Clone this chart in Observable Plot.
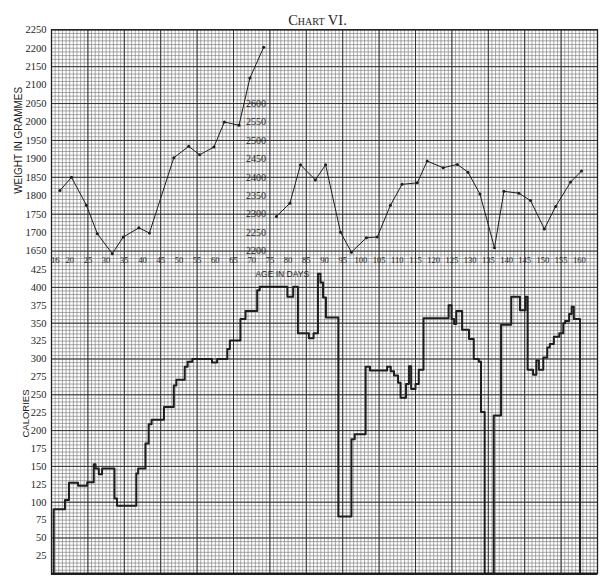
<!DOCTYPE html>
<html><head><meta charset="utf-8">
<script src="https://cdn.jsdelivr.net/npm/d3@7"></script>
<script src="https://cdn.jsdelivr.net/npm/@observablehq/plot@0.6"></script>
<style>
body{margin:0;background:#fff;}
#chart{width:610px;height:581px;}
</style>
</head><body><div id="chart"></div>
<script>
// Weight (grams), first part read on the left scale (1650-2250)
const weightDaysA = [17.3, 20.5, 24.6, 27.6, 31.7, 34.7, 39.0, 41.9, 48.6, 52.7, 55.7, 59.6, 62.5, 66.5, 69.5, 73.3];
const weightsA    = [1814, 1850, 1774, 1697, 1643, 1688, 1713, 1699, 1903, 1934, 1911, 1932, 2000, 1991, 2119, 2203];
// Weight (grams), second part read on the inner scale (2200-2600)
const weightDaysB = [76.8, 80.5, 83.4, 87.5, 90.3, 94.4, 97.4, 101.5, 104.5, 108.1, 111.3, 115.5, 118.2, 122.6, 126.5, 129.4, 132.7, 136.7, 139.3, 143.4, 146.6, 150.4, 153.5, 157.6, 160.6];
const weightsB    = [2294, 2330, 2434, 2393, 2434, 2251, 2197, 2236, 2238, 2324, 2381, 2385, 2444, 2426, 2435, 2414, 2355, 2209, 2362, 2357, 2337, 2260, 2321, 2387, 2417];
// Calories (step changes: value holds from that day on)
const calDays = [15.6, 15.6, 18.7, 19.8, 22.3, 24.8, 26.6, 27.1, 28.0, 28.9, 32.3, 33.0, 38.3, 38.8, 40.8, 41.7, 42.5, 45.9, 48.6, 49.3, 51.6, 52.4, 53.7, 59.1, 60.5, 63.3, 64.0, 66.9, 68.3, 71.5, 72.2, 79.8, 81.4, 82.7, 85.7, 87.0, 88.2, 88.9, 89.6, 90.4, 93.8, 97.4, 98.3, 101.3, 102.5, 107.2, 108.2, 109.1, 110.2, 110.9, 112.4, 113.2, 113.8, 115.0, 115.9, 117.2, 124.1, 124.9, 125.6, 126.2, 127.8, 129.7, 131.0, 132.4, 133.0, 134.0, 136.5, 138.5, 141.3, 143.7, 145.2, 145.8, 147.3, 148.2, 148.9, 150.1, 151.2, 151.9, 153.0, 154.5, 155.6, 156.1, 157.2, 157.9, 158.5, 160.2];
const calValues = [0, 90, 103, 127, 123, 128, 153, 147, 139, 147, 105, 95, 140, 147, 182, 209, 215, 233, 263, 271, 289, 296, 300, 295, 300, 314, 326, 356, 367, 396, 401, 387, 401, 336, 329, 336, 419, 407, 386, 358, 80, 188, 195, 289, 284, 289, 283, 277, 267, 246, 265, 290, 258, 265, 285, 357, 375, 356, 349, 367, 341, 328, 300, 296, 226, 0, 221, 348, 387, 368, 387, 285, 278, 298, 285, 302, 316, 321, 331, 336, 350, 353, 363, 373, 356, 0];

const dayTickLabels = [16, 20, 25, 30, 35, 40, 45, 50, 55, 60, 65, 70, 75, 80, 85, 90, 95, 100, 105, 110, 115, 120, 125, 130, 135, 140, 145, 150, 155, 160];
const weightTickLabels = [1650, 1700, 1750, 1800, 1850, 1900, 1950, 2000, 2050, 2100, 2150, 2200, 2250];
const weightTickLabelsInner = [2200, 2250, 2300, 2350, 2400, 2450, 2500, 2550, 2600];
const calTickLabels = [25, 50, 75, 100, 125, 150, 175, 200, 225, 250, 275, 300, 325, 350, 375, 400, 425];

const title = "Chart VI.";
const xTitle = "AGE IN DAYS";
const yTitleWeight = "WEIGHT IN GRAMMES";
const yTitleCal = "CALORIES";

// one vertical unit scale for the whole sheet: calorie panel below, weight panel above
const calY = c => c * 0.98715;
const wA = w => 444.91 + (w - 1650) * 0.5085;
const wB = w => 444.91 + (w - 2200) * 0.5085;

const weightA = weightDaysA.map((d, i) => ({day: d, y: wA(weightsA[i])}));
const weightB = weightDaysB.map((d, i) => ({day: d, y: wB(weightsB[i])}));
const cal = calDays.map((d, i) => ({day: d, y: calY(calValues[i])}));

// graph-paper lines
const fineX = d3.range(15, 165.01, 1);
const heavyX = d3.range(15, 165.01, 10);
const gapLo = calY(425), gapHi = wA(1650);
const fineY = [
  ...d3.range(0, 425.01, 5).map(calY),
  ...d3.range(1, 5).map(i => gapLo + i * (gapHi - gapLo) / 5),
  ...d3.range(1650, 2250.01, 10).map(wA)
];
const heavyY = [...d3.range(0, 400.01, 50).map(calY), ...d3.range(1650, 2250.01, 100).map(wA)];

const serif = "Liberation Serif, DejaVu Serif, serif";
const sans = "Liberation Sans, DejaVu Sans, sans-serif";
const ink = "#1e1e1e";

const wLabel = new Map(weightTickLabels.map(w => [wA(w), String(w)]));

const chart = Plot.plot({
  width: 610, height: 581,
  marginTop: 29.3, marginBottom: 7.7, marginLeft: 51, marginRight: 13,
  style: {background: "#fff", color: ink},
  x: {domain: [15, 165], axis: null},
  y: {domain: [0, 750], axis: null},
  marks: [
    Plot.ruleX(fineX, {stroke: "#7a7a7a", strokeWidth: 0.65}),
    Plot.ruleY(fineY, {stroke: "#7a7a7a", strokeWidth: 0.65}),
    Plot.ruleX(heavyX, {stroke: "#333", strokeWidth: 1}),
    Plot.ruleY(heavyY, {stroke: "#333", strokeWidth: 1}),
    Plot.frame({stroke: ink, strokeWidth: 1.3}),
    Plot.ruleY([0], {stroke: ink, strokeWidth: 2.4}),
    // labels
    Plot.axisY(weightTickLabels.map(wA), {anchor: "left", tickSize: 0, tickPadding: 5, label: null,
      tickFormat: u => wLabel.get(u), fontSize: 10.5, fontFamily: serif}),
    Plot.axisY(calTickLabels.map(calY), {anchor: "left", tickSize: 0, tickPadding: 5, label: null,
      tickFormat: u => String(Math.round(u / 0.98715)), fontSize: 10.5, fontFamily: serif}),
    Plot.text(weightTickLabelsInner, {x: () => 68.4, y: d => wB(d), text: d => String(d), textAnchor: "start",
      fontSize: 10, fontFamily: serif, fill: ink}),
    Plot.text(dayTickLabels, {x: d => d, y: () => 431.9, text: d => String(d), fontSize: 8.5, fontFamily: serif, fill: ink}),
    Plot.text([xTitle], {x: () => 78.4, y: () => 413.6, text: d => d, fontSize: 8.5, fontFamily: sans, fill: ink}),
    Plot.text([yTitleWeight], {frameAnchor: "left", y: () => 597.6, dx: -33, rotate: -90, textAnchor: "middle",
      text: d => d, fontSize: 10, fontFamily: sans, fill: ink}),
    Plot.text([yTitleCal], {frameAnchor: "left", y: () => 221, dx: -26, rotate: -90, textAnchor: "middle",
      text: d => d, fontSize: 9.5, fontFamily: sans, fill: ink}),
    Plot.text([title], {frameAnchor: "top", dx: -7, dy: -15, text: d => d, fontSize: 14.5,
      fontFamily: serif, fontVariant: "small-caps", fill: ink}),
    // data
    Plot.line(cal, {x: "day", y: "y", curve: "step-after", stroke: ink, strokeWidth: 2}),
    Plot.line(weightA, {x: "day", y: "y", stroke: ink, strokeWidth: 1}),
    Plot.line(weightB, {x: "day", y: "y", stroke: ink, strokeWidth: 1}),
    Plot.dot(weightA, {x: "day", y: "y", r: 1.5, fill: ink}),
    Plot.dot(weightB, {x: "day", y: "y", r: 1.5, fill: ink})
  ]
});
document.getElementById("chart").appendChild(chart);
</script>
</body></html>
